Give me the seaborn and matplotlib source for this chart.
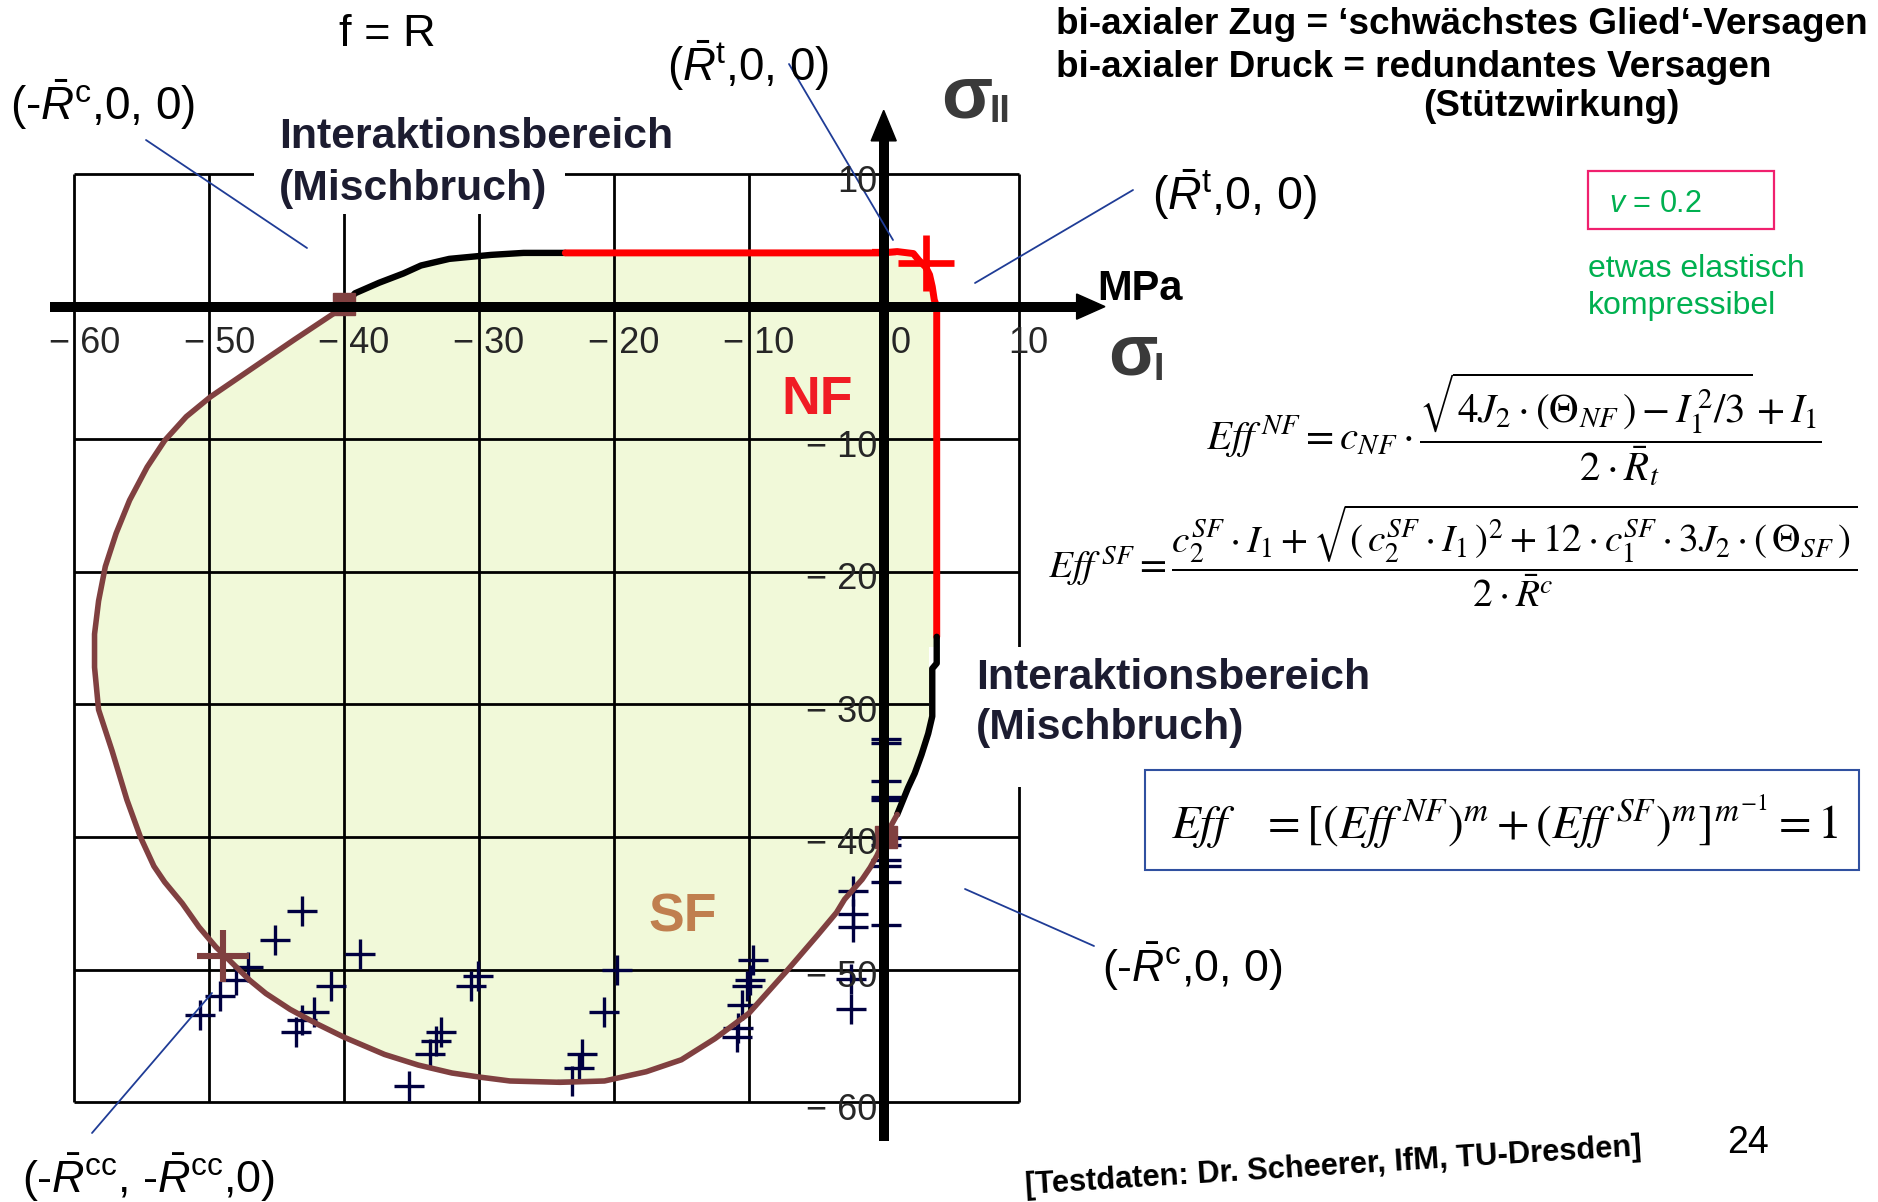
import matplotlib
matplotlib.use("Agg")
import matplotlib.pyplot as plt
import seaborn as sns
import pandas as pd
from matplotlib.patches import Rectangle, Polygon
from matplotlib.lines import Line2D

# ---------------------------------------------------------------- values (MPa)
grid_ticks = [-60, -50, -40, -30, -20, -10, 0, 10]
x_tick_values = [-60, -50, -40, -30, -20, -10, 0, 10]
x_tick_labels = ["\u2212 60", "\u2212 50", "\u2212 40", "\u2212 30", "\u2212 20", "\u2212 10", "0", "10"]
y_tick_values = [10, -10, -20, -30, -40, -50, -60]
y_tick_labels = ["10", "\u2212 10", "\u2212 20", "\u2212 30", "\u2212 40", "\u2212 50", "\u2212 60"]

R_t = 3.93    # uniaxial tensile strength
R_c = 40.0    # uniaxial compressive strength
R_cc = 49.0   # equibiaxial compressive strength

# interaction zone, upper left (black)
mix_upper_s1 = [-40.0, -39.2, -37.4, -35.6, -34.3, -32.2, -29.1, -26.7, -23.6]
mix_upper_s2 = [0.0, 1.0, 1.8, 2.5, 3.1, 3.6, 3.9, 4.05, 4.05]

# normal fracture (NF) branch, red
nf_s1 = [-23.6, 0.0, 1.0, 2.2, 2.6, 3.1, 3.4, 3.6, 3.75, 3.93, 3.93]
nf_s2 = [4.05, 4.05, 4.15, 4.0, 3.5, 3.0, 2.4, 1.5, 0.5, 0.0, -24.9]

# interaction zone, lower right (black)
mix_right_s1 = [3.93, 3.93, 3.6, 3.6, 3.3, 2.8, 2.3, 1.8, 1.4, 1.0]
mix_right_s2 = [-24.9, -26.9, -27.3, -30.9, -32.2, -33.8, -35.2, -36.3, -37.3, -38.3]

# shear fracture (SF) branch, brown
sf_s1 = [1.0, 0.3, -0.5, -1.0, -1.6, -2.3, -2.9, -3.5, -4.9, -7.1, -10.0, -12.5,
         -15.0, -17.6, -20.7, -24.0, -27.7, -30.0, -32.0, -34.5, -37.0, -40.0,
         -42.0, -44.0, -45.8, -47.0, -48.0, -49.5, -50.75, -52.0, -53.3, -54.1,
         -55.1, -56.1, -57.2, -58.2, -58.5, -58.5, -58.2, -57.7, -56.9, -55.9,
         -54.6, -53.3, -51.7, -49.9, -46.3, -43.7, -40.0]
sf_s2 = [-38.3, -39.6, -41.4, -42.3, -43.2, -44.0, -44.7, -45.7, -47.4, -50.0, -53.3, -55.2,
         -56.8, -57.7, -58.4, -58.5, -58.4, -58.1, -57.8, -57.2, -56.4, -55.1,
         -54.1, -53.0, -51.8, -50.8, -49.8, -48.3, -46.8, -45.0, -43.4, -42.2,
         -40.0, -37.2, -33.5, -30.4, -27.2, -24.7, -22.2, -19.6, -17.1, -14.6,
         -12.1, -10.1, -8.3, -6.8, -4.3, -2.5, 0.0]

# biaxial compression test data [Scheerer, IfM, TU Dresden]
test_s1 = [-43.1, -45.1, -38.8, -47.1, -48.0, -41.0, -49.2, -50.7, -42.2, -43.1, -43.6,
           -30.1, -30.6, -19.8, -20.7, -32.8, -33.2, -33.6, -35.2, -22.4, -22.6, -23.1,
           -9.7, -9.9, -10.1, -10.5, -10.8, -10.9,
           -2.3, -2.3, -2.3, -2.4, -2.4,
           0.2, 0.2, 0.2, 0.2, 0.2, 0.2, 0.2, 0.2, 0.2, 0.2, 0.2]
test_s2 = [-45.6, -47.8, -48.8, -49.8, -50.8, -51.2, -52.0, -53.4, -53.2, -53.8, -54.7,
           -50.5, -51.2, -50.0, -53.2, -54.7, -55.4, -56.4, -58.8, -56.4, -57.4, -58.4,
           -49.3, -50.8, -51.2, -52.7, -54.4, -55.1,
           -44.1, -45.8, -46.8, -50.7, -53.0,
           -32.6, -32.9, -35.8, -37.0, -37.2, -40.1, -40.6, -41.7, -42.2, -43.4, -46.6]

# biaxial tension test points
tension_s1 = [0.0, 3.15]
tension_s2 = [4.1, 3.3]

# ---------------------------------------------------------------- style
sns.set_theme(style="white")
plt.rcParams["font.family"] = ["Liberation Sans", "DejaVu Sans"]
plt.rcParams["mathtext.fontset"] = "custom"
plt.rcParams["mathtext.rm"] = "Liberation Sans"
plt.rcParams["mathtext.it"] = "Liberation Sans:italic"
plt.rcParams["mathtext.bf"] = "Liberation Sans:bold"

NAVY = "#000040"
BROWN = "#804040"
RED = "#FF0000"
FILL = "#F1F9D9"
LEADER = "#1F3C96"
TEXT_DARK = "#1C1C30"
GREEN = "#00B050"

W, H = 1878, 1202
fig = plt.figure(figsize=(W / 100, H / 100), dpi=100)
ax = fig.add_axes([0, 0, 1, 1])
# 13.49 px per MPa horizontally, 13.26 px per MPa vertically, origin at (883.7, 306.6) px
ax.set_xlim(-883.7 / 13.49, (W - 883.7) / 13.49)
ax.set_ylim(-(H - 306.6) / 13.26, 306.6 / 13.26)
ax.axis("off")


def fx(x):
    return x / W


def fy(y):
    return 1 - y / H


def txt(x, y, s, **kw):
    return fig.text(fx(x), fy(y), s, **kw)


def rect(x0, y0, x1, y1, **kw):
    # drawn inside the axes so that zorder interleaves with the plotted lines
    r = Rectangle((fx(x0), fy(y1)), (x1 - x0) / W, (y1 - y0) / H,
                  transform=fig.transFigure, **kw)
    ax.add_patch(r)
    return r


def leader(x0, y0, x1, y1):
    ax.add_line(Line2D([fx(x0), fx(x1)], [fy(y0), fy(y1)], color=LEADER,
                       lw=1.3, transform=fig.transFigure, zorder=6))


# ---------------------------------------------------------------- envelope fill
env_x = mix_upper_s1 + nf_s1 + mix_right_s1 + sf_s1
env_y = mix_upper_s2 + nf_s2 + mix_right_s2 + sf_s2
ax.add_patch(Polygon(list(zip(env_x, env_y)), closed=True, facecolor=FILL,
                     edgecolor="none", zorder=1))

# ---------------------------------------------------------------- grid
ax.vlines(grid_ticks, -60, 10, colors="black", lw=2.0, zorder=1.5)
ax.hlines(grid_ticks, -60, 10, colors="black", lw=2.0, zorder=1.5)

# white text boxes masking the grid
rect(254, 165, 565, 214, facecolor="white", edgecolor="none", zorder=2)
rect(929, 647, 1390, 787, facecolor="white", edgecolor="none", zorder=2)

# ---------------------------------------------------------------- test data
sns.scatterplot(x=test_s1, y=test_s2, marker="+", s=21 ** 2, linewidth=2.4,
                color=NAVY, ax=ax, zorder=3, legend=False)

# ---------------------------------------------------------------- failure envelope
segments = [
    (mix_upper_s1, mix_upper_s2, "black", 4.6),
    (nf_s1, nf_s2, RED, 5.0),
    (mix_right_s1, mix_right_s2, "black", 4.6),
    (sf_s1, sf_s2, BROWN, 4.0),
]
for sx, sy, col, lw in segments:
    df = pd.DataFrame({"s1": sx, "s2": sy})
    sns.lineplot(data=df, x="s1", y="s2", sort=False, estimator=None, color=col,
                 lw=lw, ax=ax, zorder=4, legend=False)

# strength points
ax.plot([-R_c, 0.2], [0.2, -R_c], "s", ms=16, color=BROWN, zorder=4.5)
ax.plot([-R_cc], [-R_cc], "+", ms=38, mew=4.4, color=BROWN, zorder=4.5)
ax.plot(tension_s1[:1], tension_s2[:1], "+", ms=17, mew=4.5, color=RED, zorder=4.5)
ax.plot(tension_s1[1:], tension_s2[1:], "+", ms=40, mew=4.8, color=RED, zorder=4.5)

# ---------------------------------------------------------------- coordinate axes
ax.plot([-61.8, 15.5], [0, 0], color="black", lw=7.2, solid_capstyle="butt", zorder=5)
ax.plot([0, 0], [-62.9, 14.0], color="black", lw=7.2, solid_capstyle="butt", zorder=5)
ax.add_patch(Polygon([(16.4, 0), (14.3, 0.95), (14.3, -0.95)], closed=True,
                     color="black", zorder=5))
ax.add_patch(Polygon([(0, 14.8), (0.93, 12.5), (-0.93, 12.5)], closed=True,
                     color="black", zorder=5))

# tick labels
TICK = "#262626"
for v, lab in zip(x_tick_values, x_tick_labels):
    xp = 883.7 + v * 13.49
    off = 17 if v == 0 else 10
    txt(xp + off, 353, lab, fontsize=26, color=TICK, ha="center", va="baseline", zorder=7)
for v, lab in zip(y_tick_values, y_tick_labels):
    yp = 306.6 - v * 13.26
    txt(877, yp + 17.5, lab, fontsize=26, color=TICK, ha="right", va="baseline", zorder=7)

# axis names
SIG = "#3A3A3A"
txt(941, 118, "\u03c3", fontsize=54, fontweight="bold", color=SIG, va="baseline")
txt(989, 122, "II", fontsize=27, fontweight="bold", color=SIG, va="baseline")
txt(1108, 375, "\u03c3", fontsize=52, fontweight="bold", color=SIG, va="baseline")
txt(1154, 380, "I", fontsize=27, fontweight="bold", color=SIG, va="baseline")
txt(1097, 300, "MPa", fontsize=30, fontweight="bold", color="black", va="baseline")

# region labels
txt(781, 414, "NF", fontsize=38.5, fontweight="bold", color="#F01C24", va="baseline", zorder=7)
txt(648, 931, "SF", fontsize=38.5, fontweight="bold", color="#C07F4F", va="baseline", zorder=7)
txt(279, 148.5, "Interaktionsbereich", fontsize=30.8, fontweight="bold",
    color=TEXT_DARK, va="baseline", zorder=7)
txt(279, 200, "(Mischbruch)", fontsize=30.8, fontweight="bold", color=TEXT_DARK,
    va="baseline", zorder=7)
txt(976, 689, "Interaktionsbereich", fontsize=30.8, fontweight="bold",
    color=TEXT_DARK, va="baseline", zorder=7)
txt(976, 739, "(Mischbruch)", fontsize=30.8, fontweight="bold", color=TEXT_DARK,
    va="baseline", zorder=7)

# header
txt(339, 45.5, "f = R", fontsize=32.5, color="black", va="baseline")
txt(1056, 33.5, "bi-axialer Zug = \u2018schw\u00e4chstes Glied\u2018-Versagen",
    fontsize=26.6, fontweight="bold", color="black", va="baseline")
txt(1056, 76.7, "bi-axialer Druck = redundantes Versagen", fontsize=26.6,
    fontweight="bold", color="black", va="baseline")
txt(1423, 116, "(St\u00fctzwirkung)", fontsize=26.6, fontweight="bold",
    color="black", va="baseline")

# strength point labels with leaders
renderer = fig.canvas.get_renderer()


def fit_width(t, target):
    w = t.get_window_extent(renderer).width
    t.set_fontsize(t.get_fontsize() * target / w)


labels = [
    (667, 81, r"($\bar{R}^{\mathrm{t}}$,0, 0)", 162),
    (10, 120, r"(-$\bar{R}^{\mathrm{c}}$,0, 0)", 185),
    (1152, 210, r"($\bar{R}^{\mathrm{t}}$,0, 0)", 165),
    (1102, 982, r"(-$\bar{R}^{\mathrm{c}}$,0, 0)", 180),
    (22, 1193, r"(-$\bar{R}^{\mathrm{cc}}$, -$\bar{R}^{\mathrm{cc}}$,0)", 253),
]
for x, y, s, w in labels:
    t = txt(x, y, s, fontsize=30, color="black", va="baseline")
    fit_width(t, w)

leader(789, 64, 893, 240)
leader(1133, 190, 975, 283)
leader(146, 140, 307, 248)
leader(965, 889, 1094, 946)
leader(212, 993, 92, 1133)

# Poisson ratio note
rect(1588, 171, 1774, 229, facecolor="none", edgecolor="#F0206E", lw=1.6, zorder=6)
txt(1609, 212, r"$v$ = 0.2", fontsize=22, color=GREEN, va="baseline")
txt(1588, 277, "etwas elastisch", fontsize=23, color=GREEN, va="baseline")
txt(1588, 314, "kompressibel", fontsize=23, color=GREEN, va="baseline")

# failure criteria
eq_nf = txt(1206, 429,
            r"$Eff^{\,NF}=c_{NF}\cdot\dfrac{\sqrt{4J_2\cdot(\Theta_{NF}\,)-I_1^{\,2}/3}+I_1}{2\cdot\bar{R}_t}$",
            fontsize=27, color="black", va="center", ha="left", math_fontfamily="stix")
fit_width(eq_nf, 617)
eq_sf = txt(1048, 556,
            r"$Eff^{\,SF}=\dfrac{c_2^{SF}\cdot I_1+\sqrt{(\,c_2^{SF}\cdot I_1\,)^2+12\cdot c_1^{SF}\cdot 3J_2\cdot(\,\Theta_{SF}\,)}}{2\cdot\bar{R}^c}$",
            fontsize=27, color="black", va="center", ha="left", math_fontfamily="stix")
fit_width(eq_sf, 811)
rect(1145, 770, 1859, 870, facecolor="none", edgecolor="#3050A0", lw=1.5, zorder=6)
eq_int = txt(1171, 822,
             r"$Eff\quad=[(Eff^{\,NF})^m+(Eff^{\,SF})^m]^{m^{-1}}=1$",
             fontsize=33, color="black", va="center", ha="left", math_fontfamily="stix")
fit_width(eq_int, 668)

# footer
txt(1333, 1167, "[Testdaten: Dr. Scheerer, IfM, TU-Dresden]", fontsize=22.2,
    fontweight="bold", color="black", ha="center", va="center", rotation=3.6,
    rotation_mode="anchor")
txt(1727, 1153, "24", fontsize=27, color="black", va="baseline")

fig.savefig("out.png", dpi=100)
